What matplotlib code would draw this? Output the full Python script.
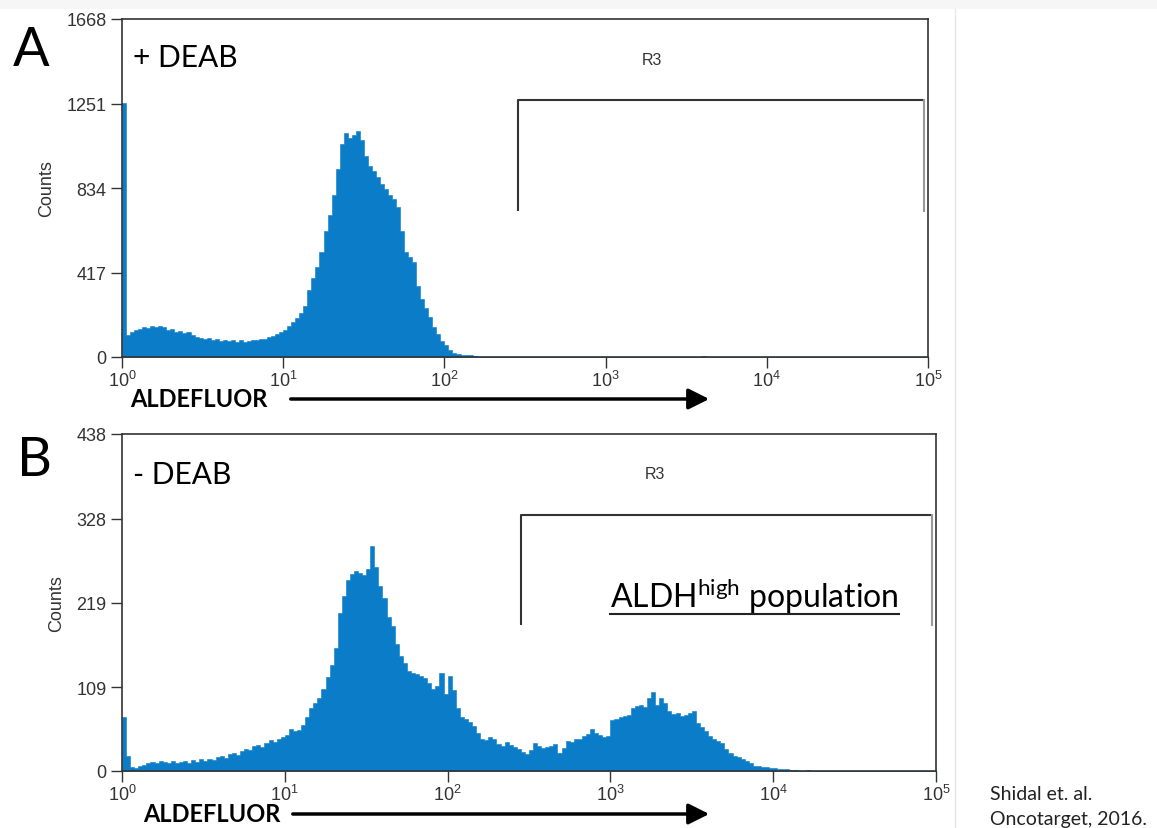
import numpy as np
import matplotlib
matplotlib.use('Agg')
import matplotlib.pyplot as plt
from matplotlib.lines import Line2D

# Histogram channel counts, bins of 0.025 decade starting at 10^0
bin_dec = 0.025
counts_a = [1255, 110, 125, 135, 140, 150, 145, 152, 148, 155,
            150, 135, 140, 125, 130, 118, 122, 110, 100, 95,
            88, 92, 85, 90, 80, 86, 78, 84, 76, 82,
            75, 80, 86, 82, 90, 88, 98, 105, 112, 125,
            135, 155, 175, 190, 215, 250, 330, 390, 445, 520,
            620, 700, 800, 930, 1050, 1105, 1080, 1095, 1115, 1070,
            990, 945, 920, 890, 855, 830, 800, 780, 740, 620,
            520, 495, 470, 350, 285, 240, 195, 150, 115, 80,
            60, 35, 22, 15, 12, 10, 8, 3] + [0] * 56 + [6] + [0] * 55

counts_b = [70, 20, 5, 4, 6, 8, 10, 12, 11, 13,
            12, 10, 13, 11, 12, 13, 11, 14, 12, 15,
            13, 16, 14, 18, 20, 17, 22, 24, 21, 26,
            28, 27, 32, 34, 31, 37, 40, 38, 42, 44,
            47, 55, 52, 53, 60, 70, 82, 88, 95, 106,
            122, 138, 160, 205, 228, 248, 256, 260, 257, 255,
            262, 292, 265, 240, 225, 200, 188, 165, 150, 140,
            130, 128, 126, 124, 121, 114, 107, 111, 127, 100,
            123, 105, 82, 70, 68, 64, 59, 50, 42, 40,
            44, 42, 35, 33, 38, 34, 31, 28, 25, 22,
            27, 36, 33, 30, 31, 33, 35, 24, 30, 39,
            38, 41, 42, 45, 48, 55, 50, 47, 44, 46,
            66, 68, 70, 72, 73, 82, 85, 86, 83, 95,
            103, 86, 95, 88, 78, 74, 75, 72, 73, 76,
            78, 62, 57, 52, 45, 42, 39, 36, 28, 24,
            20, 18, 15, 13, 10, 7, 6, 5, 5, 4,
            4, 3, 3, 2, 1, 1, 0, 0, 1] + [0] * 31

yticks_a = [0, 417, 834, 1251, 1668]
yticks_b = [0, 109, 219, 328, 438]
xticks = [1, 10, 100, 1000, 10000, 100000]
xlabels = [r'$\mathregular{10^{%d}}$' % i for i in range(6)]

# R3 gate: x from, x to, top count, bottom of side bars
gate_a = (288, 95000, 1268, 720)
gate_b = (283, 95000, 333, 190)

blue = '#0a7cc8'
dark = '#333333'

W, H = 1157, 829
fig = plt.figure(figsize=(W / 100, H / 100), dpi=100)


def fx(px):
    return px / W


def fy(py):
    return 1 - py / H


def panel(rect, counts, yticks, gate, r3_xy):
    ax = fig.add_axes(rect)
    edges = 10 ** (np.arange(len(counts) + 1) * bin_dec)
    ax.fill_between(edges, list(counts) + [counts[-1]], step='post',
                    color=blue, lw=0.4, edgecolor=blue)
    ax.set_xscale('log')
    ax.set_xlim(1, 1e5)
    ax.set_ylim(0, yticks[-1])
    ax.minorticks_off()
    ax.set_xticks(xticks, labels=xlabels, fontsize=13, family='Liberation Sans', color=dark)
    ax.set_yticks(yticks, labels=[str(t) for t in yticks], fontsize=13,
                  family='Liberation Sans', color=dark)
    ax.tick_params(direction='out', length=8, width=1, color=dark)
    ax.tick_params(axis='x', pad=1)
    ax.tick_params(axis='y', pad=3)
    for s in ax.spines.values():
        s.set_color(dark)
        s.set_linewidth(1.2)
    ax.set_ylabel('Counts', fontsize=13, color=dark, family='Liberation Sans', labelpad=8)
    x0, x1, top, bot = gate
    ax.plot([x0, x0, x1], [bot, top, top], color=dark, lw=1.5, solid_capstyle='butt')
    ax.plot([x1, x1], [top, bot], color='#999999', lw=1.5)
    ax.text(r3_xy[0], r3_xy[1], 'R3', fontsize=11.5, color=dark, family='Liberation Sans',
            ha='center', va='center')
    return ax


ax_a = panel([fx(122), fy(358), (928 - 122) / W, (358 - 20) / H],
             counts_a, yticks_a, gate_a, (1950, 1470))
ax_b = panel([fx(122), fy(772), (936 - 122) / W, (772 - 435) / H],
             counts_b, yticks_b, gate_b, (1880, 387))

font = 'Lato'
fig.text(fx(13), fy(51), 'A', fontsize=39, family=font, ha='left', va='center')
fig.text(fx(17), fy(461), 'B', fontsize=39, family=font, ha='left', va='center')
fig.text(fx(133), fy(58), '+ DEAB', fontsize=21.5, family=font, ha='left', va='center')
fig.text(fx(133), fy(475), '- DEAB', fontsize=21.5, family=font, ha='left', va='center')

for (tx, ty, a0, a1) in [(130, 400, 288, 712), (143, 815, 290, 712)]:
    fig.text(fx(tx), fy(ty), 'ALDEFLUOR', fontsize=17, family=font, weight='bold',
             ha='left', va='center')
    fig.add_artist(matplotlib.patches.FancyArrowPatch(
        (fx(a0), fy(ty)), (fx(a1), fy(ty)), transform=fig.transFigure,
        arrowstyle='-|>,head_length=0.9,head_width=0.45', mutation_scale=14,
        lw=2.5, color='black'))

pop = fig.text(fx(610), fy(597), r'$\mathregular{ALDH^{high}}$ population',
               fontsize=23, family=font, ha='left', va='center')
fig.canvas.draw()
bb = pop.get_window_extent().transformed(fig.transFigure.inverted())
fig.add_artist(Line2D([bb.x0, bb.x1], [bb.y0 + 0.002, bb.y0 + 0.002],
                      transform=fig.transFigure, color='#222222', lw=1.5))

fig.text(fx(990), fy(795), 'Shidal et. al.', fontsize=14, family=font, color='#222222',
         ha='left', va='center')
fig.text(fx(990), fy(820), 'Oncotarget, 2016.', fontsize=14, family=font, color='#222222',
         ha='left', va='center')

# light page border from the source figure
fig.add_artist(Line2D([fx(955), fx(955)], [0, fy(10)], transform=fig.transFigure,
                      color='#e6e6e6', lw=1))
fig.add_artist(matplotlib.patches.Rectangle((0, fy(10)), 1, 10 / H, transform=fig.transFigure,
                                            color='#f6f6f6', lw=0))

fig.savefig('out.png', dpi=100)
